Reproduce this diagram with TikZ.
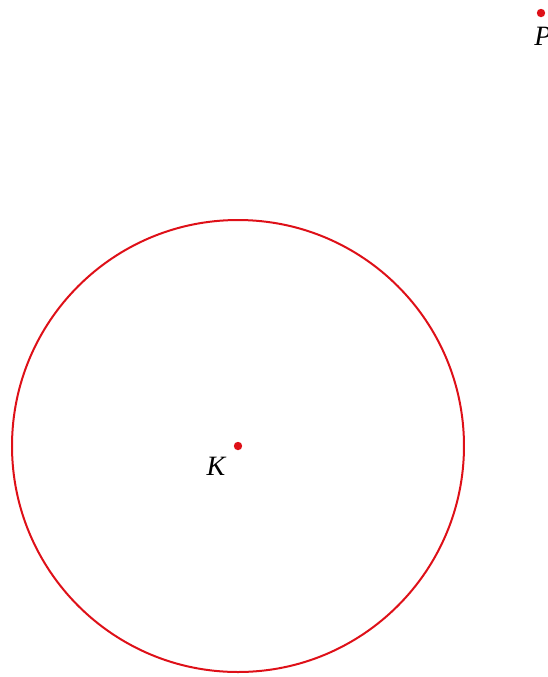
\documentclass[tikz,border=0pt]{standalone}
\usepackage{fontspec}
\setmainfont{Liberation Serif}
\definecolor{geored}{RGB}{222,16,24}
\begin{document}
\begin{tikzpicture}[x=0.5pt,y=-0.5pt,
  dot/.style={circle,fill=geored,inner sep=0pt,minimum size=4.2pt},
  lbl/.style={inner sep=0pt,font=\fontsize{14}{16}\selectfont\itshape},
  circ/.style={draw=geored,line width=1pt}]
\useasboundingbox (0,0) rectangle (548,677);
\node[dot] (K) at (238,446) {};
\node[dot] (P) at (541,13) {};
\node[lbl] (Klab) at (216,466) {K};
\node[lbl] (Plab) at (543,36) {P};
\draw[circ] (K) circle[radius=226];
\end{tikzpicture}
\end{document}
